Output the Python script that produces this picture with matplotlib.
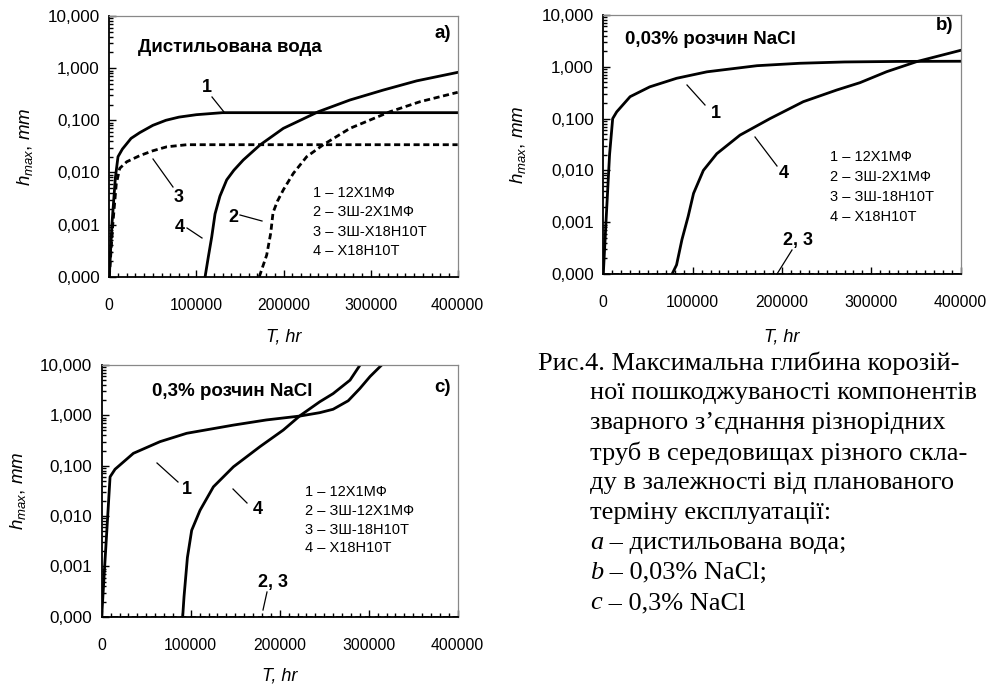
import numpy as np
import matplotlib
matplotlib.use("Agg")
import matplotlib.pyplot as plt
from matplotlib.text import Annotation
from matplotlib.ticker import FixedLocator, FuncFormatter, MultipleLocator, LogLocator, NullFormatter

# ---------------- data ----------------
YMIN = 1e-4
# Panel a: distilled water
a1_T = [0, 3000, 7000, 10000, 15000, 25000, 35000, 50000, 65000, 80000, 100000, 130000, 400000]
a1_h = [0, 0.001, 0.008, 0.02, 0.028, 0.045, 0.058, 0.08, 0.1, 0.115, 0.128, 0.14, 0.14]
a3_T = [0, 4000, 8000, 12000, 20000, 35000, 50000, 66000, 89000, 400000]
a3_h = [0, 0.001, 0.006, 0.012, 0.016, 0.021, 0.026, 0.031, 0.034, 0.034]
a4_T = [110000, 113700, 117600, 121400, 127000, 134800, 143000, 153800, 173000, 199800, 240000, 276300, 314600, 352900, 400000]
a4_h = [0, 0.00024, 0.00058, 0.0016, 0.0035, 0.0072, 0.011, 0.0173, 0.0336, 0.070, 0.146, 0.245, 0.38, 0.57, 0.83]
a2_T = [172200, 180700, 185300, 188000, 193000, 200000, 211300, 226600, 245700, 276300, 322300, 356700, 400000]
a2_h = [0, 0.00026, 0.00068, 0.0017, 0.0028, 0.0047, 0.0096, 0.020, 0.034, 0.070, 0.146, 0.227, 0.344]

# Panel b: 0.03% NaCl
b1_T = [0, 3000, 7000, 10500, 15000, 30000, 52000, 82000, 116000, 172000, 220000, 270000, 330000, 400000]
b1_h = [0, 0.001, 0.02, 0.1, 0.135, 0.265, 0.41, 0.6, 0.8, 1.05, 1.17, 1.24, 1.27, 1.28]
b4_T = [77000, 82000, 88000, 95000, 101000, 112000, 127000, 153000, 186600, 223800, 261200, 287300, 317200, 350800, 400000]
b4_h = [0, 0.00015, 0.00046, 0.0013, 0.0036, 0.010, 0.021, 0.048, 0.10, 0.212, 0.356, 0.494, 0.805, 1.26, 2.08]
b23_T = [0, 400000]
b23_h = [0, 0]

# Panel c: 0.3% NaCl
c1_T = [0, 3000, 6000, 9400, 15000, 35600, 65500, 95500, 148000, 185000, 223000, 245000, 260000, 277000, 290000, 301500, 314600]
c1_h = [0, 0.0008, 0.006, 0.06, 0.085, 0.176, 0.30, 0.44, 0.64, 0.81, 0.97, 1.13, 1.32, 1.95, 3.4, 5.9, 10.0]
c4_T = [91000, 92500, 96300, 101100, 110500, 125500, 148000, 178000, 204000, 223000, 245000, 260000, 279000, 290300]
c4_h = [0, 0.00025, 0.0015, 0.0052, 0.013, 0.038, 0.095, 0.24, 0.51, 0.99, 1.86, 2.7, 5.0, 10.0]
c23_T = [0, 400000]
c23_h = [0, 0]

y_ticks = [1e-4, 1e-3, 1e-2, 1e-1, 1, 10]
x_ticks = [0, 100000, 200000, 300000, 400000]

legend_a = ["1 – 12Х1МФ", "2 – ЗШ-2Х1МФ", "3 – ЗШ-Х18Н10Т", "4 – Х18Н10Т"]
legend_b = ["1 – 12Х1МФ", "2 – ЗШ-2Х1МФ", "3 – ЗШ-18Н10Т", "4 – Х18Н10Т"]
legend_c = ["1 – 12Х1МФ", "2 – ЗШ-12Х1МФ", "3 – ЗШ-18Н10Т", "4 – Х18Н10Т"]

caption_lines = [
    "Рис.4. Максимальна глибина корозій-",
    "ної пошкоджуваності компонентів",
    "зварного з’єднання різнорідних",
    "труб в середовищах різного скла-",
    "ду в залежності від планованого",
    "терміну експлуатації:",
]
caption_items = [("a", " – дистильована вода;"), ("b", " – 0,03% NaCl;"), ("c", " – 0,3% NaCl")]

# ---------------- style ----------------
plt.rcParams['font.family'] = ['Liberation Sans', 'DejaVu Sans']
plt.rcParams['mathtext.fontset'] = 'custom'
plt.rcParams['mathtext.rm'] = 'Liberation Sans'
plt.rcParams['mathtext.it'] = 'Liberation Sans:italic'
W, H = 991, 684
fig = plt.figure(figsize=(W / 100, H / 100), dpi=100)

LW = 2.0
DASH = (0, (2.2, 1.3))


def px(x0, y0, x1, y1):
    return [x0 / W, 1 - y1 / H, (x1 - x0) / W, (y1 - y0) / H]


def clip(h):
    return np.maximum(np.asarray(h, dtype=float), YMIN)


def setup(ax):
    ax.set_yscale('log')
    ax.set_ylim(YMIN, 10)
    ax.set_xlim(0, 400000)
    ax.yaxis.set_major_locator(FixedLocator(y_ticks))
    ax.yaxis.set_major_formatter(FuncFormatter(lambda v, p: f"{v:.3f}".replace('.', ',')))
    ax.yaxis.set_minor_locator(LogLocator(base=10, subs=np.arange(2, 10), numticks=20))
    ax.yaxis.set_minor_formatter(NullFormatter())
    ax.xaxis.set_major_locator(FixedLocator(x_ticks))
    ax.xaxis.set_major_formatter(FuncFormatter(lambda v, p: f"{int(v)}"))
    ax.xaxis.set_minor_locator(MultipleLocator(10000))
    ax.tick_params(which='both', direction='in', width=1.0, color='black')
    ax.tick_params(which='major', length=5)
    ax.tick_params(which='minor', length=3)
    ax.tick_params(axis='y', which='major', labelsize=12.3, pad=6.7)
    ax.tick_params(axis='x', which='major', labelsize=11.3, pad=15.3)
    ax.tick_params(top=False, right=False, which='both')
    for s in ['left', 'bottom']:
        ax.spines[s].set_color('black')
        ax.spines[s].set_linewidth(1.3)
    for s in ['top', 'right']:
        ax.spines[s].set_color('#888888')
        ax.spines[s].set_linewidth(0.9)
    ax.set_ylabel(r"$h_{max}$, $mm$", fontsize=13.5)
    ax.set_xlabel("T, hr", fontsize=13, fontstyle='italic')
    ax.xaxis.label.set_va('top')


def note(text, txy, p0, p1):
    fig.text(txy[0] / W, 1 - txy[1] / H, text, fontsize=13, fontweight='bold', ha='center', va='center')
    fig.add_artist(plt.Line2D([p0[0] / W, p1[0] / W], [1 - p0[1] / H, 1 - p1[1] / H],
                              color='black', lw=0.9, transform=fig.transFigure))


def legend_text(lines, x, y0, dy):
    for i, t in enumerate(lines):
        fig.text(x / W, 1 - (y0 + i * dy) / H, t, fontsize=10.5, ha='left', va='center')


# ---- panel a ----
axa = fig.add_axes(px(109.3, 16, 457.7, 276.7))
setup(axa)
axa.plot(a1_T, clip(a1_h), color='black', lw=LW)
axa.plot(a3_T, clip(a3_h), color='black', lw=LW, linestyle=DASH)
axa.plot(a4_T, clip(a4_h), color='black', lw=LW)
axa.plot(a2_T, clip(a2_h), color='black', lw=LW, linestyle=DASH)
axa.yaxis.set_label_coords(-0.213, 0.5)
axa.xaxis.set_label_coords(0.5, -0.2)
fig.text(138 / W, 1 - 47 / H, "Дистильована вода", fontsize=13.5, fontweight='bold', ha='left', va='center')
fig.text(451 / W, 1 - 33 / H, "a)", fontsize=13.5, fontweight='bold', ha='right', va='center')
note("1", (207, 87), (212, 97), (224, 112))
note("3", (179, 197), (153, 159), (173, 187))
note("4", (180, 228), (187, 228), (202, 238))
note("2", (233, 218), (240, 215), (262, 221))
legend_text(legend_a, 313, 193, 19.3)

# ---- panel b ----
axb = fig.add_axes(px(603.3, 15, 960.7, 274))
setup(axb)
axb.plot(b1_T, clip(b1_h), color='black', lw=LW)
axb.plot(b4_T, clip(b4_h), color='black', lw=LW)
axb.plot(b23_T, clip(b23_h), color='black', lw=LW, linestyle=DASH)
axb.yaxis.set_label_coords(-0.211, 0.5)
axb.xaxis.set_label_coords(0.5, -0.212)
fig.text(625 / W, 1 - 39 / H, "0,03% розчин NaCl", fontsize=13.5, fontweight='bold', ha='left', va='center')
fig.text(953 / W, 1 - 26 / H, "b)", fontsize=13.5, fontweight='bold', ha='right', va='center')
note("1", (716, 113), (687, 85), (705, 105))
note("4", (784, 173), (755, 137), (777, 166))
note("2, 3", (798, 241), (792, 250), (777, 274))
legend_text(legend_b, 830, 157, 20)

# ---- panel c ----
axc = fig.add_axes(px(101.7, 365, 457.7, 616.7))
setup(axc)
axc.plot(c1_T, clip(c1_h), color='black', lw=LW)
axc.plot(c4_T, clip(c4_h), color='black', lw=LW)
axc.plot(c23_T, clip(c23_h), color='black', lw=LW, linestyle=DASH)
axc.yaxis.set_label_coords(-0.207, 0.5)
axc.xaxis.set_label_coords(0.5, -0.2)
fig.text(152 / W, 1 - 392 / H, "0,3% розчин NaCl", fontsize=13.5, fontweight='bold', ha='left', va='center')
fig.text(451 / W, 1 - 387 / H, "c)", fontsize=13.5, fontweight='bold', ha='right', va='center')
note("1", (187, 489), (157, 463), (178, 482))
note("4", (258, 510), (233, 489), (247, 503))
note("2, 3", (273, 583), (267, 592), (263, 610))
legend_text(legend_c, 305, 492, 18.8)

# ---- caption ----
cap_font = dict(family=['Liberation Serif', 'DejaVu Serif'], fontsize=19.0)
y = 363
for i, line in enumerate(caption_lines):
    x = 538 if i == 0 else 590
    fig.text(x / W, 1 - y / H, line, ha='left', va='center', **cap_font)
    y += 30
for letter, rest in caption_items:
    t = fig.text(590 / W, 1 - y / H, letter, ha='left', va='center', fontstyle='italic', **cap_font)
    fig.add_artist(Annotation(rest, xy=(1, 0.5), xycoords=t, ha='left', va='center', **cap_font))
    y += 30

fig.savefig("out.png", dpi=100)
